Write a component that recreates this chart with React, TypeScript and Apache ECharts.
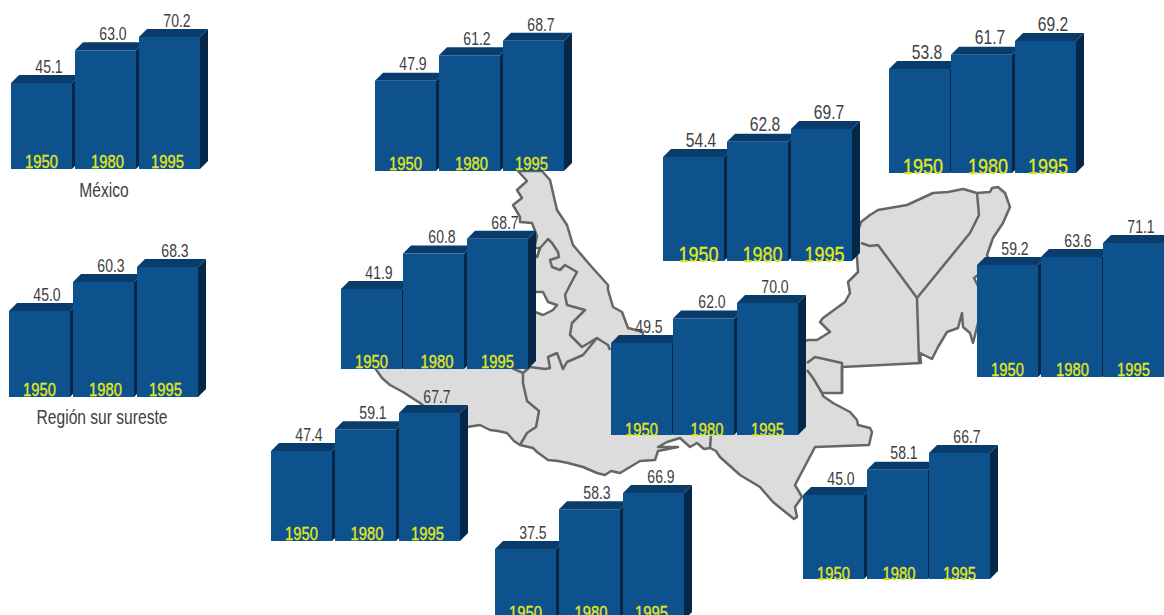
import React, { useEffect, useRef } from "react";
import * as echarts from "echarts";

const years = ["1950", "1980", "1995"];
const mexico = [45.1, 63.0, 70.2];
const regionSur = [45.0, 60.3, 68.3];
const panelA = [47.9, 61.2, 68.7];
const panelB = [54.4, 62.8, 69.7];
const panelC = [53.8, 61.7, 69.2];
const panelD = [59.2, 63.6, 71.1];
const panelE = [41.9, 60.8, 68.7];
const panelF = [49.5, 62.0, 70.0];
const panelG = [47.4, 59.1, 67.7];
const panelH = [37.5, 58.3, 66.9];
const panelI = [45.0, 58.1, 66.7];

const FONT = '"Liberation Sans", Arial, sans-serif';
const NARROW = 0.78;
const NARROW_YEAR = 0.82;
const FRONT = "#0d528d";
const TOP = "#0a3c6b";
const SIDE = "#062848";
const TEXT = "#404040";
const YELLOW = "#e4e61c";
const YMAX = 80;

// x: first bar, p: pitch, b: baseline y, a: px per unit, m: axis base,
// yf / vf: year / value font, adj: bar nudges, ys: year label nudges, yo: year label lift
const panels: any[] = [
  { v: mexico, x: 11, p: 64, b: 169, a: 1.83, m: -1.9, yf: 18, vf: 18, adj: [0, 0, 0], ys: [0, 2, -2], yo: 8 },
  { v: regionSur, x: 9, p: 64, b: 397, a: 1.89, m: -0.5, yf: 18, vf: 18, adj: [0, 0, 0], ys: [0, 2, -2], yo: 8 },
  { v: panelA, x: 375, p: 64, b: 171, a: 1.92, m: 0.9, yf: 18, vf: 18, adj: [0, 0, 0], ys: [0, 2, -2], yo: 8 },
  { v: panelB, x: 663, p: 64, b: 261, a: 1.83, m: -2.4, yf: 22, vf: 20, adj: [0, 0, 0], ys: [5, 5, 3], yo: 7 },
  { v: panelC, x: 889, p: 63, b: 173, a: 1.82, m: -3.3, yf: 22, vf: 20, adj: [0, -1, 0], ys: [3.5, 5.5, 2.5], yo: 7 },
  { v: panelD, x: 977, p: 63, b: 377, a: 1.85, m: -1.3, yf: 18, vf: 18, adj: [0, 1, 0], ys: [0, 2, 0], yo: 8 },
  { v: panelE, x: 341, p: 63, b: 369, a: 1.87, m: -0.9, yf: 18, vf: 18, adj: [0, -1, 0], ys: [0, 2.5, 0], yo: 8 },
  { v: panelF, x: 611, p: 63, b: 435, a: 1.95, m: 2.3, yf: 18, vf: 18, adj: [0, -1, 0], ys: [0, 2.5, 0], yo: 6 },
  { v: panelG, x: 271, p: 64, b: 541, a: 1.87, m: -0.7, yf: 18, vf: 18, adj: [0, 0, 0], ys: [0, 1.5, -2], yo: 8 },
  { v: panelH, x: 495, p: 64, b: 620, a: 1.905, m: 0.2, yf: 18, vf: 18, adj: [0, 0, 0], ys: [0, 1.5, -2], yo: 7.5 },
  { v: panelI, x: 803, p: 63, b: 579, a: 1.935, m: 1.6, yf: 18, vf: 18, adj: [0, 1, 0], ys: [0, 2.5, 0], yo: 6 },
];

const BAR_W = 61;
const DEPTH = 8;

const outline = [
  [518, 171], [527, 181], [517, 190], [522, 198], [513, 205], [520, 217], [520, 222], [532, 223],
  [537, 236], [532, 260], [500, 300], [375, 368], [382, 378], [390, 385], [403, 392], [420, 403],
  [440, 420], [467, 427], [480, 425], [490, 430], [498, 431], [507, 433], [514, 441], [520, 445],
  [533, 448], [537, 452], [548, 460], [558, 461], [563, 462], [568, 463], [583, 467], [597, 473],
  [605, 475], [611, 471], [620, 473], [640, 461], [655, 460], [658, 451], [678, 447], [658, 447],
  [667, 442], [680, 438], [690, 447], [697, 443], [704, 449], [710, 448], [716, 451], [720, 457],
  [740, 475], [760, 487], [773, 502], [794, 519], [797, 517], [795, 507], [802, 497], [795, 485],
  [815, 447], [869, 445], [872, 432], [870, 428], [858, 425], [857, 420], [850, 412], [833, 403], [823, 396], [822, 393],
  [842, 393], [842, 367], [921, 363], [920, 353], [932, 359], [938, 347], [947, 332], [958, 328],
  [962, 313], [963, 327], [970, 333], [973, 343], [978, 323], [985, 300], [974, 278], [978, 275],
  [990, 262], [987, 255], [993, 238], [1003, 223], [1010, 207], [1005, 193], [998, 187], [992, 188],
  [990, 192], [977, 193], [963, 189], [948, 192], [933, 193], [907, 205], [878, 210], [870, 215],
  [861, 222], [855, 240], [857, 258], [858, 272], [848, 282], [850, 293], [845, 302], [823, 318],
  [820, 322], [830, 332], [817, 340], [808, 340], [790, 345], [700, 345], [643, 340], [643, 332], [628, 328],
  [622, 312], [613, 307], [608, 290], [608, 285], [590, 265], [573, 245], [567, 225], [557, 210], [550, 180], [542, 171],
];

const innerLines = [
  [[537, 257], [540, 248], [548, 239], [552, 243], [558, 252], [559, 257], [550, 260], [552, 267], [560, 270], [565, 265], [577, 272], [570, 285], [565, 295], [567, 305], [585, 310], [572, 323], [570, 335], [582, 347], [597, 338], [600, 340], [608, 345], [610, 350]],
  [[512, 368], [523, 373], [530, 367], [545, 369], [550, 368], [548, 357], [557, 353], [563, 369], [567, 362], [583, 355], [597, 338]],
  [[523, 373], [523, 383], [527, 401], [539, 411], [536, 427], [527, 433], [520, 445]],
  [[711, 435], [710, 448]],
  [[977, 193], [979, 215], [970, 233], [917, 298], [878, 245], [870, 246], [861, 243]],
  [[917, 298], [919, 363]],
  [[807, 363], [815, 357], [842, 363], [842, 393]],
  [[807, 370], [813, 378], [822, 393]],
];

const holes = [
  [[530, 292], [543, 292], [548, 302], [557, 305], [553, 310], [543, 315], [530, 310]],
  [[530, 258], [537, 257], [540, 248], [530, 248]],
];

const stroke = { stroke: "#666666", lineWidth: 2.5, lineJoin: "round" };

function renderBar(panel: any) {
  return (params: any, api: any) => {
    const i = api.value(0);
    const v = api.value(1);
    const [cx, yTop] = api.coord([i, v]);
    const [, yBase] = api.coord([i, panel.m]);
    const x0 = cx - BAR_W / 2 + panel.adj[i];
    const x1 = x0 + BAR_W;
    return {
      type: "group",
      children: [
        { type: "polygon", shape: { points: [[x0, yTop], [x0 + DEPTH, yTop - DEPTH], [x1 + DEPTH, yTop - DEPTH], [x1, yTop]] }, style: { fill: TOP } },
        { type: "polygon", shape: { points: [[x1, yTop], [x1 + DEPTH, yTop - DEPTH], [x1 + DEPTH, yBase - DEPTH], [x1, yBase]] }, style: { fill: SIDE } },
        { type: "rect", shape: { x: x0, y: yTop, width: BAR_W, height: yBase - yTop }, style: { fill: FRONT } },
        { type: "line", shape: { x1: x1, y1: yTop, x2: x1 + DEPTH, y2: yTop - DEPTH }, style: { stroke: "#2a6090", lineWidth: 0.6 } },
        { type: "text", x: cx + panel.ys[i], y: yBase - panel.yo, scaleX: NARROW_YEAR, style: { text: years[i], fill: YELLOW, stroke: YELLOW, lineWidth: 0.35, font: `${panel.yf}px ${FONT}`, textAlign: "center", textVerticalAlign: "middle" } },
        { type: "text", x: cx + 7.5, y: yTop - 17, scaleX: NARROW, style: { text: v.toFixed(1), fill: TEXT, font: `${panel.vf}px ${FONT}`, textAlign: "center", textVerticalAlign: "middle" } },
      ],
    };
  };
}

export default function App() {
  const ref = useRef<HTMLDivElement>(null);
  useEffect(() => {
    const chart = echarts.init(ref.current!, null, { renderer: "svg" });
    const grid = panels.map((d) => ({
      left: d.x + BAR_W / 2 - d.p / 2,
      width: d.p * 3,
      top: d.b - d.a * (YMAX - d.m),
      height: d.a * (YMAX - d.m),
      containLabel: false,
    }));
    chart.setOption({
      animation: false,
      backgroundColor: "#ffffff",
      tooltip: { show: false },
      grid,
      xAxis: panels.map((_, k) => ({ type: "category", gridIndex: k, data: years, show: false })),
      yAxis: panels.map((d, k) => ({ type: "value", gridIndex: k, min: d.m, max: YMAX, show: false })),
      series: panels.map((d, k) => ({
        type: "custom",
        xAxisIndex: k,
        yAxisIndex: k,
        clip: false,
        z: 2 + k,
        silent: true,
        encode: { x: 0, y: 1 },
        data: d.v.map((val: number, i: number) => [i, val]),
        renderItem: renderBar(d),
      })),
      graphic: {
        elements: [
          { type: "polygon", z: 0, silent: true, shape: { points: outline }, style: { fill: "#dcdcdc", ...stroke } },
          ...holes.map((h) => ({ type: "polygon", z: 0, silent: true, shape: { points: h }, style: { fill: "#ffffff", ...stroke } })),
          ...innerLines.map((l) => ({ type: "polyline", z: 0, silent: true, shape: { points: l }, style: { fill: "none", ...stroke } })),
          { type: "text", z: 1, x: 104, y: 190, scaleX: NARROW, style: { text: "México", fill: TEXT, font: `20px ${FONT}`, textAlign: "center", textVerticalAlign: "middle" } },
          { type: "text", z: 1, x: 102, y: 417, scaleX: NARROW, style: { text: "Región sur sureste", fill: TEXT, font: `20px ${FONT}`, textAlign: "center", textVerticalAlign: "middle" } },
        ],
      },
    });
    return () => chart.dispose();
  }, []);
  return (
    <div style={{ position: "absolute", left: 0, top: 0, width: 1164, height: 615, overflow: "hidden" }}>
      <div ref={ref} style={{ width: 1240, height: 660 }} />
    </div>
  );
}
